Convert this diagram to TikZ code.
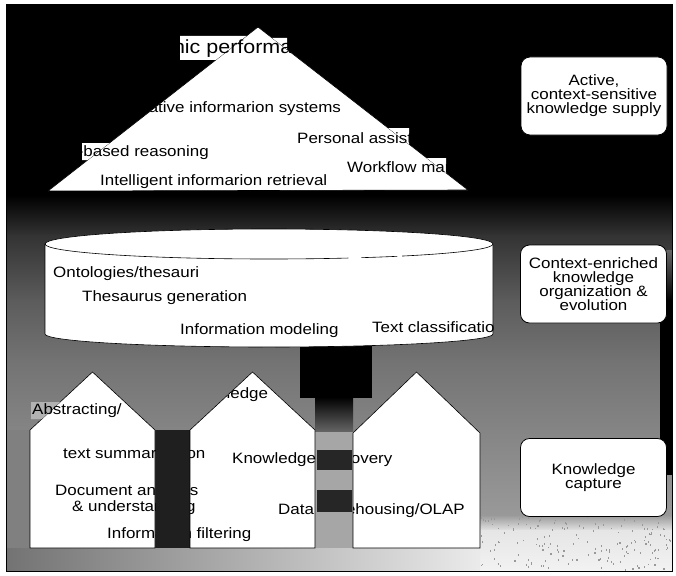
\documentclass[tikz,border=0pt]{standalone}
\usepackage{fontspec}
\setmainfont{Liberation Sans}[FakeStretch=1.13]
\begin{document}
\begin{tikzpicture}[x=1pt,y=-1pt,
  lbl/.style={anchor=base west, inner sep=0pt, font=\fontsize{15}{14}\selectfont},
  toplbl/.style={anchor=base west, inner sep=0pt, font=\fontsize{19}{18}\selectfont},
  panel/.style={draw=black, line width=0.8pt, fill=white, rounded corners=9pt,
    minimum width=146pt, minimum height=78pt, align=center, inner sep=2pt,
    font=\fontsize{15}{14}\selectfont},
  shapeline/.style={draw=black, line width=0.6pt, fill=white}]
\useasboundingbox (0,0) rectangle (676,575);

% backdrop: black at the top, fading to grey and nearly white at the bottom
\fill[black] (6,5) rectangle (672,196);
\shade[top color=black, bottom color=black!80] (6,195) rectangle (672,236);
\shade[top color=black!80, bottom color=black!64] (6,235) rectangle (672,301);
\shade[top color=black!64, bottom color=black!55] (6,300) rectangle (672,361);
\shade[top color=black!55, bottom color=black!48] (6,360) rectangle (672,431);
\shade[top color=black!48, bottom color=black!40] (6,430) rectangle (672,516);
\shade[top color=black!40, bottom color=black!10] (6,515) rectangle (672,531);
\shade[top color=black!10, bottom color=black!5] (6,530) rectangle (672,571);

% specks in the light floor
\pgfmathsetseed{4711}
\foreach \i in {1,...,170}{
  \pgfmathsetmacro\xx{480+190*rnd}\pgfmathsetmacro\yy{515+54*rnd}
  \fill[black!40] (\xx,\yy) rectangle ++(1.1,1.8);}

% darker masses in the backdrop
\fill[black] (300,330) rectangle (372,398);
\shade[top color=black, bottom color=black!60] (315,397) rectangle (353,432);
\fill[black!88] (155,430) rectangle (190,548);
\fill[black!35] (315,432) rectangle (353,548);
\fill[black!85] (317,450) rectangle (352,470);
\fill[black!85] (317,490) rectangle (352,512);
\fill[black!50] (6,430) rectangle (30,571);
\shade[left color=black!55, right color=black!8] (6,548) rectangle (480,571);
\shade[top color=black!60, bottom color=black] (660,250) rectangle (672,301);
\fill[black] (660,300) rectangle (672,475);

% pyramid
\path[shapeline] (258,27) -- (468,190) -- (48,191) -- cycle;
% cylinder
\path[shapeline] (45,244) arc[start angle=180, end angle=360, x radius=224, y radius=15]
  -- (493,334) arc[start angle=0, end angle=180, x radius=224, y radius=13] -- cycle;
\draw[line width=0.6pt, dash pattern=on 305pt off 13pt on 36pt off 5pt on 300pt]
  (45,244) arc[start angle=180, end angle=0, x radius=224, y radius=15];
% houses
\path[shapeline] (30,548) -- (30,430) -- (92.5,372) -- (155,430) -- (155,548) -- cycle;
\path[shapeline] (190,548) -- (190,430) -- (252.5,372) -- (315,430) -- (315,548) -- cycle;
\path[shapeline] (353,548) -- (353,433) -- (416.5,372) -- (480,433) -- (480,548) -- cycle;

% label backings reaching past the shapes
\fill[white] (180,36) -- (246.4,36) -- (215.8,60) -- (180,60) -- cycle;
\fill[white] (272.2,38) -- (287,38) -- (287,49.5) -- cycle;
\fill[white] (82,143) -- (109.5,143) -- (87.7,160) -- (82,160) -- cycle;
\fill[white] (388.1,128) -- (409,128) -- (409,144.3) -- cycle;
\fill[white] (426.7,158) -- (446,158) -- (446,173) -- cycle;
\fill[black!30] (31,402) -- (60.2,402) -- (41.9,419) -- (31,419) -- cycle;

% labels, visible only on the light areas
\begin{scope}
\clip (258,27) -- (468,190) -- (48,191) -- cycle
  (180,36) -- (246.4,36) -- (215.8,60) -- (180,60) -- cycle
  (272.2,38) -- (287,38) -- (287,49.5) -- cycle
  (82,143) -- (109.5,143) -- (87.7,160) -- (82,160) -- cycle
  (388.1,128) -- (409,128) -- (409,144.3) -- cycle
  (426.7,158) -- (446,158) -- (446,173) -- cycle
  (31,402) -- (60.2,402) -- (41.9,419) -- (31,419) -- cycle
  (45,244) arc[start angle=180, end angle=360, x radius=224, y radius=15]
  -- (493,334) arc[start angle=0, end angle=180, x radius=224, y radius=13] -- cycle
  (30,548) -- (30,430) -- (92.5,372) -- (155,430) -- (155,548) -- cycle
  (190,548) -- (190,430) -- (252.5,372) -- (315,430) -- (315,548) -- cycle
  (353,548) -- (353,433) -- (416.5,372) -- (480,433) -- (480,548) -- cycle;
\node[toplbl] (eps) at (106,54) {Electronic performance support};
\node[lbl] (cis) at (93,112) {Cooperative informarion systems};
\node[lbl] (pas) at (297,143) {Personal assistants};
\node[lbl] (cbr) at (38,156) {Case-based reasoning};
\node[lbl] (wfm) at (347,172) {Workflow management};
\node[lbl] (iir) at (100,185) {Intelligent informarion retrieval};
\node[lbl] (ont) at (53,277) {Ontologies/thesauri};
\node[lbl] (thg) at (82,301) {Thesaurus generation};
\node[lbl] (imd) at (180,334) {Information modeling};
\node[lbl] (txc) at (372,332) {Text classification};
\node[lbl] (abs) at (32,414) {Abstracting/};
\node[lbl] (tsu) at (63,458) {text summarization};
\node[lbl] (dan) at (55,495) {Document analysis};
\node[lbl] (dun) at (72,511) {\& understanding};
\node[lbl] (ifl) at (107,538) {Information filtering};
\node[lbl] (kno) at (184,398) {Knowledge};
\node[lbl] (kdi) at (232,463) {Knowledge discovery};
\node[lbl] (dwh) at (278,514) {Data warehousing/OLAP};
\end{scope}

% level captions
\node[panel] (supply) at (594,96) {Active,\\context-sensitive\\knowledge supply};
\node[panel] (organize) at (593.5,284) {Context-enriched\\knowledge\\organization \&\\evolution};
\node[panel] (capture) at (593.5,477.5) {Knowledge\\capture};

% frame
\draw[line width=1pt] (6,5) rectangle (672,571);
\end{tikzpicture}
\end{document}
